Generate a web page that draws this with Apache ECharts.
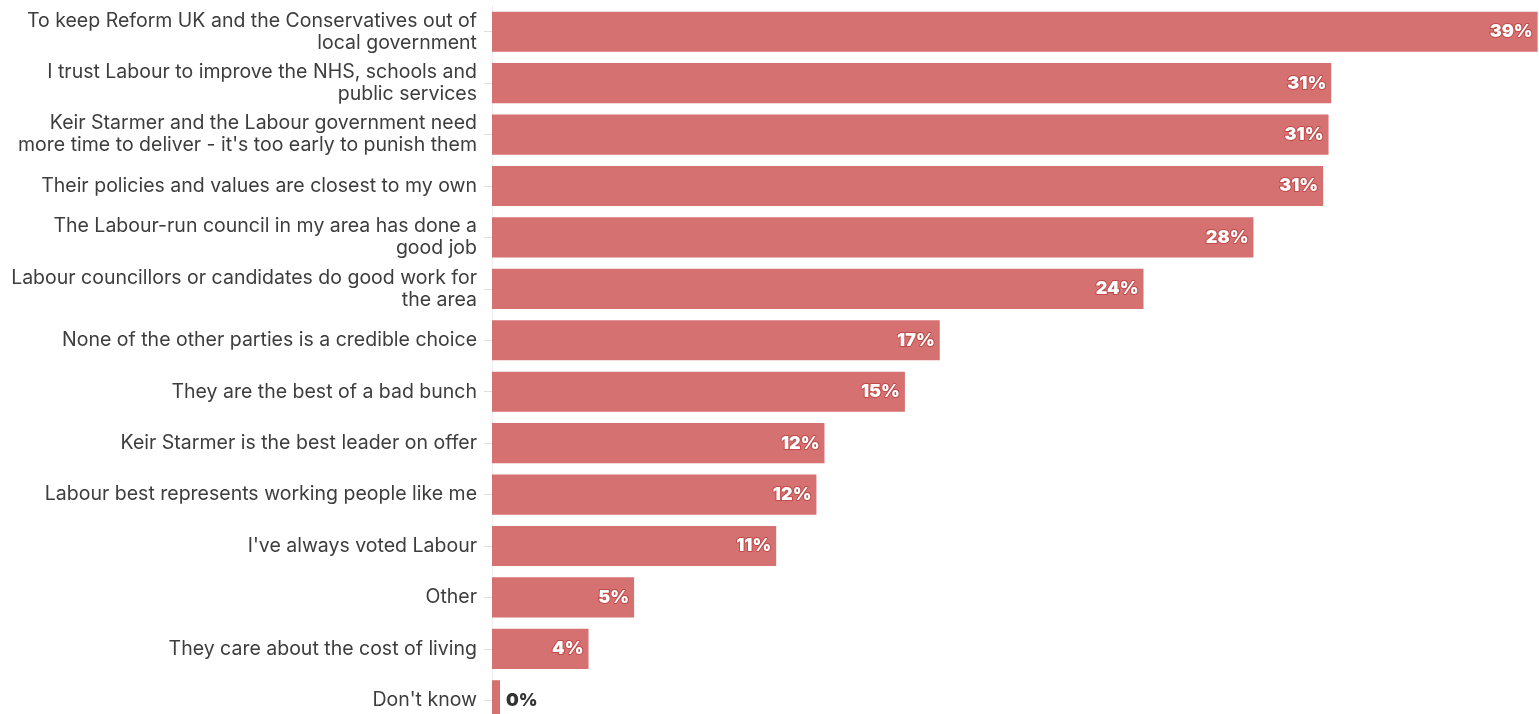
<!DOCTYPE html>
<html>
<head>
<meta charset="utf-8">
<script src="https://cdn.jsdelivr.net/npm/echarts@6/dist/echarts.min.js"></script>
<style>html,body{margin:0;padding:0;background:#fff;overflow:hidden;}#chart{width:1539px;height:726px;}</style>
</head>
<body>
<div id="chart"></div>
<script>
const categories = [
  "To keep Reform UK and the Conservatives out of\nlocal government",
  "I trust Labour to improve the NHS, schools and\npublic services",
  "Keir Starmer and the Labour government need\nmore time to deliver - it's too early to punish them",
  "Their policies and values are closest to my own",
  "The Labour-run council in my area has done a\ngood job",
  "Labour councillors or candidates do good work for\nthe area",
  "None of the other parties is a credible choice",
  "They are the best of a bad bunch",
  "Keir Starmer is the best leader on offer",
  "Labour best represents working people like me",
  "I've always voted Labour",
  "Other",
  "They care about the cost of living",
  "Don't know"
];
const values = [39.0, 31.3, 31.2, 31.0, 28.4, 24.3, 16.7, 15.4, 12.4, 12.1, 10.6, 5.3, 3.6, 0.3];

const font = 'Inter, "Open Sans", sans-serif';
const data = values.map(v => (Math.round(v) === 0 ? {
  value: v,
  label: { position: 'right', color: '#333', textBorderWidth: 0, distance: 6 }
} : v));

const chart = echarts.init(document.getElementById('chart'));
chart.setOption({
  animation: false,
  grid: { left: 492, right: 0, top: 6, bottom: 0, containLabel: false },
  xAxis: { type: 'value', min: 0, max: 39.05, show: false },
  yAxis: {
    type: 'category', inverse: true, data: categories,
    axisLine: { show: true, lineStyle: { color: '#ececec', width: 1 } },
    axisTick: { show: true, alignWithLabel: true, length: 8, lineStyle: { color: '#e0e0e0' } },
    axisLabel: { color: '#3d3d3d', fontFamily: font, fontSize: 19.5, lineHeight: 22, margin: 15, align: 'right' }
  },
  series: [{
    type: 'bar', data: data, barCategoryGap: '22%',
    itemStyle: { color: '#d67171' },
    label: {
      show: true, position: 'insideRight', distance: 5,
      formatter: p => Math.round(p.value) + '%',
      color: '#fff', fontFamily: font, fontWeight: 900, fontSize: 18,
      textBorderColor: '#c24a4a', textBorderWidth: 2
    }
  }]
});
</script>
</body>
</html>
